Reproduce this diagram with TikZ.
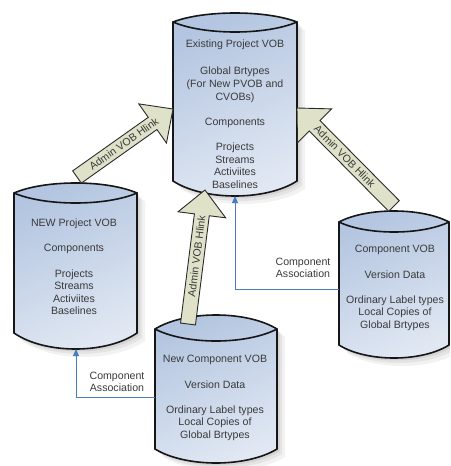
\documentclass[tikz,border=0pt]{standalone}
\usepackage{fontspec}
\setmainfont{Liberation Sans}
\usetikzlibrary{calc,arrows.meta}

\definecolor{cylTop}{HTML}{B3C5E0}
\definecolor{cylBot}{HTML}{E1E8F3}
\definecolor{cylLine}{HTML}{161616}
\definecolor{linkFill}{HTML}{DFE2C9}
\definecolor{linkLine}{HTML}{2A2A2A}
\definecolor{assocBlue}{HTML}{4A7EBB}
\definecolor{txt}{HTML}{3A3A3A}

\tikzset{
  cylbody/.style={rectangle, inner sep=0pt, outer sep=0pt},
  cyltext/.style={align=center, text=txt, font=\fontsize{10.6}{12.6}\selectfont, inner sep=0pt},
  cylfill/.style={top color=cylTop, bottom color=cylBot, shading angle=25},
  cylrim/.style={draw=cylLine, line width=1.6pt},
  hlinkarrow/.style={fill=linkFill, draw=linkLine, line width=0.9pt},
  hlinktext/.style={font=\fontsize{10.6}{12.6}\selectfont, text=txt, inner sep=0pt},
  assoc/.style={draw=assocBlue, line width=0.9pt, -{Triangle[length=7pt, width=6pt]}},
  assoctext/.style={align=center, text=txt, font=\fontsize{10.6}{12}\selectfont, inner sep=0pt},
}

% VOB cylinder: name, left, right, top corners, bottom corners,
% rise of the lid, sag of the lid rim, sag of the base
\newcommand\vobcyl[8]{%
  \node[cylbody, minimum width={(#3-#2)*1pt}, minimum height={(#5-#4)*1pt}]
    (#1) at ({(#2+#3)/2},{(#4+#5)/2}) {};
  \foreach \s/\o in {8/0.05,5/0.06,2.5/0.07}{%
    \fill[black, opacity=\o] ({#2+\s},{#5+\s}) -- ({#2+\s},{#4+\s})
      .. controls +({(#3-#2)/4},{-#6*4/3}) and +({-(#3-#2)/4},{-#6*4/3}) .. ({#3+\s},{#4+\s})
      -- ({#3+\s},{#5+\s})
      .. controls +({-(#3-#2)/4},{#8*4/3}) and +({(#3-#2)/4},{#8*4/3}) .. ({#2+\s},{#5+\s}) -- cycle;}
  \draw[cylfill, cylrim] (#1.south west) -- (#1.north west)
    .. controls +({(#3-#2)/4},{-#6*4/3}) and +({-(#3-#2)/4},{-#6*4/3}) .. (#1.north east)
    -- (#1.south east)
    .. controls +({-(#3-#2)/4},{#8*4/3}) and +({(#3-#2)/4},{#8*4/3}) .. (#1.south west) -- cycle;
  \draw[cylrim] (#1.north west)
    .. controls +({(#3-#2)/4},{#7*4/3}) and +({-(#3-#2)/4},{#7*4/3}) .. (#1.north east);
}

% Block arrow for an admin hyperlink: start, tip, name prefix
\newcommand\hlink[3]{%
  \coordinate (#3b) at ($(#2)!25pt!(#1)$);
  \draw[hlinkarrow] ($(#1)!7.5pt!90:(#2)$) -- ($(#3b)!7.5pt!90:(#2)$)
    -- ($(#3b)!24pt!90:(#2)$) -- (#2) -- ($(#3b)!24pt!-90:(#2)$)
    -- ($(#3b)!7.5pt!-90:(#2)$) -- ($(#1)!7.5pt!-90:(#2)$) -- cycle;
  \path (#1) -- (#3b) node[pos=0.62, sloped, hlinktext] (#3t) {Admin VOB Hlink};
}

\begin{document}
\begin{tikzpicture}[x=1pt, y=-1pt]
\useasboundingbox (0,0) rectangle (450,466);
\clip (0,0) rectangle (450,466);

% cylinders
\vobcyl{pvob}{173}{297}{22}{181}{9}{10}{15}
\vobcyl{npvob}{14}{137}{193}{333}{10}{10}{16}
\vobcyl{comp}{339}{449}{222}{345}{11}{10}{13}
\vobcyl{ncomp}{155}{277}{329}{449}{14}{12}{14}

% cylinder contents
\node[cyltext] (pvob-t) at (235,114) {Existing Project VOB\\[15pt]Global Brtypes\\(For New PVOB and\\CVOBs)\\[12.6pt]Components\\[12.6pt]Projects\\Streams\\Activiites\\Baselines};
\node[cyltext] (npvob-t) at (74,267) {NEW Project VOB\\[12.6pt]Components\\[12.6pt]Projects\\Streams\\Activiites\\Baselines};
\node[cyltext] (ncomp-t) at (215,398) {New Component VOB\\[12.6pt]Version Data\\[12.6pt]Ordinary Label types\\Local Copies of\\Global Brtypes};
\node[cyltext] (comp-t) at (395,288) {Component VOB\\[12.6pt]Version Data\\[12.6pt]Ordinary Label types\\Local Copies of\\Global Brtypes};

% component associations
\draw[assoc] ([yshift=-6pt]comp.west) -| ([yshift=-15pt]pvob.south);
\draw[assoc] ([yshift=-8pt]ncomp.west) -| ([xshift=0.5pt, yshift=-16pt]npvob.south);
\node[assoctext] (assoc1) at (303,268) {Component\\Association};
\node[assoctext] (assoc2) at (117,382) {Component\\Association};

% admin hyperlinks
\coordinate (l1s) at ([xshift=1.5pt, yshift=16pt]npvob.north);
\coordinate (l1e) at ([yshift=-7.5pt]pvob.west);
\coordinate (l2s) at ([xshift=-28pt, yshift=5pt]ncomp.north);
\coordinate (l2e) at ([xshift=-30pt, yshift=-9pt]pvob.south);
\coordinate (l3s) at ([yshift=16pt]comp.north);
\coordinate (l3e) at ([yshift=-6.5pt]pvob.east);
\hlink{l1s}{l1e}{l1}
\hlink{l2s}{l2e}{l2}
\hlink{l3s}{l3e}{l3}
\end{tikzpicture}
\end{document}
